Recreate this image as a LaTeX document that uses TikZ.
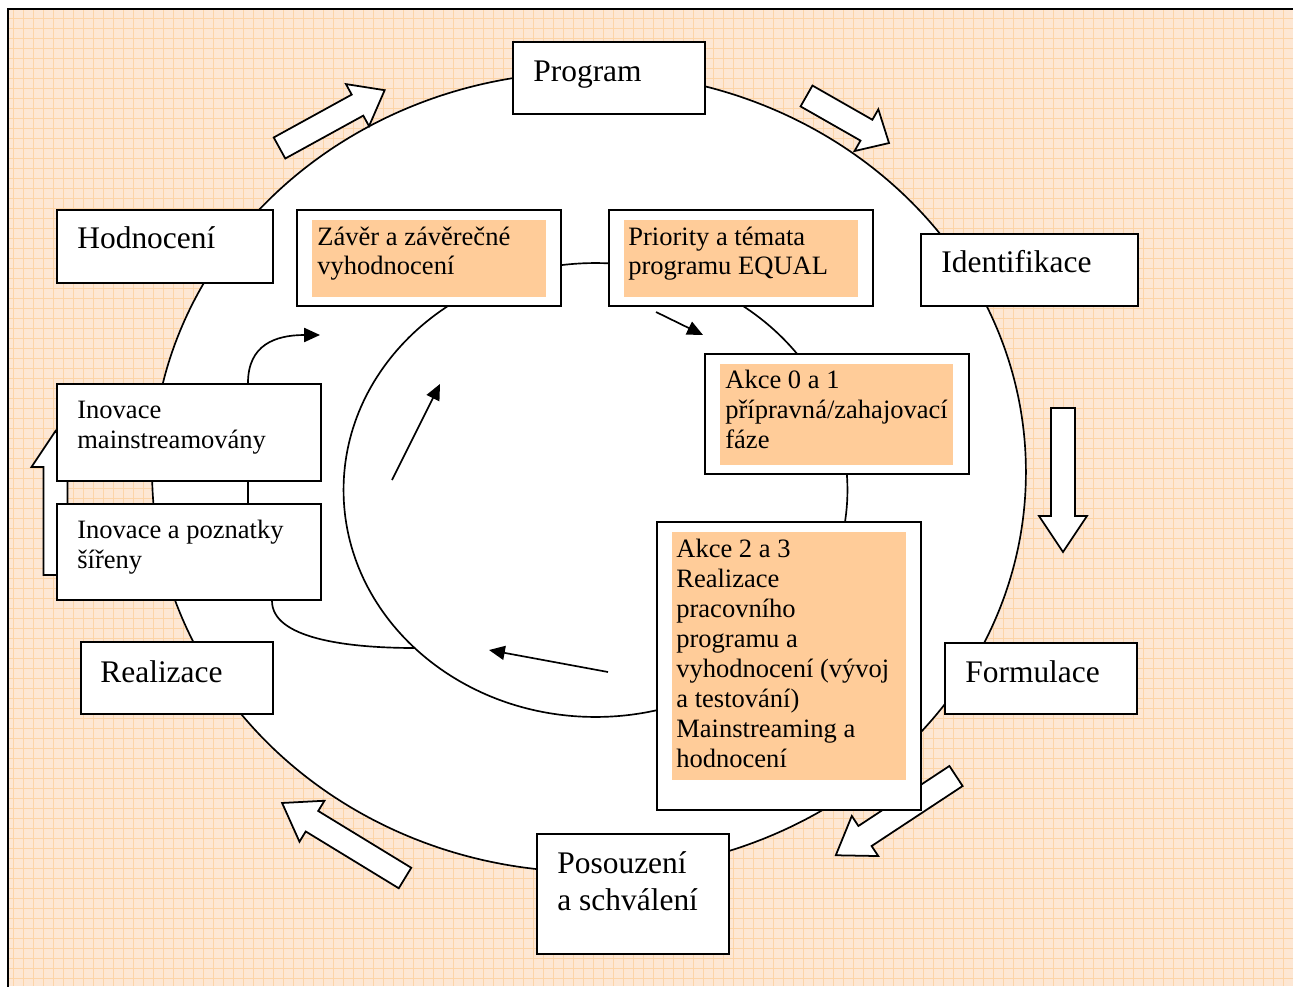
\documentclass[tikz,border=0pt]{standalone}
\usepackage{fontspec}
\setmainfont{Liberation Serif}
\usetikzlibrary{calc}
\usetikzlibrary{arrows.meta}
\definecolor{paper}{RGB}{253,231,212}
\definecolor{gridl}{RGB}{252,212,168}
\definecolor{tan}{RGB}{255,204,153}
\tikzset{
  box/.style={draw, fill=white, line width=1.1pt, inner sep=0, anchor=north west},
  big/.style={font=\fontsize{17.9}{21}\selectfont, anchor=base west, align=left, inner sep=0},
  small/.style={font=\fontsize{15.1}{17}\selectfont, anchor=base west, align=left, inner sep=0},
  conn/.style={line width=.95pt},
  hollow/.style={draw, fill=white, line width=1pt, line join=miter},
  tip/.style={-{Triangle[length=9pt,width=8pt]}},
}

\begin{document}
\begin{tikzpicture}[x=.02cm, y=-.02cm]
\useasboundingbox (0,0) rectangle (1293,986);
% paper and grid
\fill[paper] (8,9) rectangle (1293,986);
\foreach \i in {13,23,...,1293} {
  \draw[gridl, line width=.5pt] (\i,9)--(\i,986);
}
\foreach \j in {18,28,...,986} {
  \draw[gridl, line width=.5pt] (8,\j)--(1293,\j);
}
\draw[line width=1.1pt] (8,992)--(8,9)--(1298,9);

% outer cycle
\draw[conn, fill=white] (589,472) ellipse [x radius=8.74cm, y radius=8cm];

% big hollow arrows
\foreach \x/\y/\a/\l/\h in {279.5/148/28.8/120/31, 806.5/96/-29.7/95/26, 1063/408/-90/144/36,
    956/776/213.4/144/35, 405/878/148.6/144/35, 55.5/575/90/144/36} {
  \draw[hollow, shift={(\x,\y)}, rotate=\a] (0,-12)--(\l-\h,-12)--(\l-\h,-24)--(\l,0)
    --(\l-\h,24)--(\l-\h,12)--(0,12)--cycle;
}

% inner cycle
\draw[conn] (595.5,490) ellipse [x radius=5.04cm, y radius=4.54cm];

% boxes
\node[box, minimum width=3.84cm, minimum height=1.44cm] (prog) at (512,41) {};
\node[box, minimum width=4.32cm, minimum height=1.46cm] (hod) at (56,209) {};
\node[box, minimum width=5.28cm, minimum height=1.92cm] (zav) at (296,209) {};
\node[box, minimum width=5.28cm, minimum height=1.92cm] (pri) at (608,209) {};
\node[box, minimum width=4.34cm, minimum height=1.44cm] (ide) at (920,233) {};
\node[box, minimum width=5.28cm, minimum height=2.4cm] (akA) at (704,353) {};
\node[box, minimum width=5.28cm, minimum height=5.76cm] (akB) at (656,521) {};
\node[box, minimum width=3.84cm, minimum height=1.42cm] (form) at (944,642) {};
\node[box, minimum width=3.84cm, minimum height=2.4cm] (pos) at (536,833) {};
\node[box, minimum width=3.84cm, minimum height=1.44cm] (real) at (80,641) {};

% connectors
\coordinate (hp) at (320,335);
\coordinate (ell) at (415,648);
\coordinate (a1) at (656,312);
\coordinate (a2) at (703,335);
\coordinate (b1) at (392,480);
\coordinate (b2) at (440,384);
\coordinate (c1) at (608,672);
\coordinate (c2) at (489,650);
\draw[conn, tip] (a1)--(a2);
\draw[conn, tip] (b1)--(b2);
\draw[conn, tip] (c1)--(c2);

\node[box, minimum width=5.28cm, minimum height=1.94cm] (inov) at (56,383) {};
\node[box, minimum width=5.28cm, minimum height=1.92cm] (sir) at (56,503) {};
\draw[conn, tip] ($(inov.north west)+(192,0)$) .. controls (248,345) and (275,335) .. (hp);
\draw[conn] ($(inov.south west)+(192,0)$) -- ($(sir.north west)+(192,0)$);
\draw[conn] ($(sir.south west)+(216,0)$) .. controls (272,638) and (345,648) .. (ell);

% orange fields
\fill[tan] ($(zav.north west)+(16,11)$) rectangle ($(zav.south east)+(-16,-10)$);
\fill[tan] ($(pri.north west)+(16,11)$) rectangle ($(pri.south east)+(-16,-10)$);
\fill[tan] ($(akA.north west)+(16,11)$) rectangle ($(akA.south east)+(-17,-10)$);
\fill[tan] ($(akB.north west)+(16,11)$) rectangle ($(akB.south east)+(-16,-31)$);

% texts (base = last line)
\node[big] (tprog) at ($(prog.north west)+(21,41)$) {Program};
\node[big] (thod) at ($(hod.north west)+(21,40)$) {Hodnocení};
\node[big] (tide) at ($(ide.north west)+(21,40)$) {Identifikace};
\node[big] (tform) at ($(form.north west)+(21,40)$) {Formulace};
\node[big] (treal) at ($(real.north west)+(20,41)$) {Realizace};
\node[big] (tpos) at ($(pos.north west)+(21,77)$) {Posouzení\\a schválení};
\node[small] (tzav) at ($(zav.north west)+(21,66)$) {Závěr a závěrečné\\vyhodnocení};
\node[small] (tpri) at ($(pri.north west)+(20,66)$) {Priority a témata\\programu EQUAL};
\node[small] (takA) at ($(akA.north west)+(21,95)$) {Akce 0 a 1\\přípravná/zahajovací\\fáze};
\node[small] (takB) at ($(akB.north west)+(20,246)$) {Akce 2 a 3\\Realizace\\pracovního\\programu a\\vyhodnocení (vývoj\\a testování)\\Mainstreaming a\\hodnocení};
\node[small] (tinov) at ($(inov.north west)+(21,65)$) {Inovace\\mainstreamovány};
\node[small] (tsir) at ($(sir.north west)+(21,65)$) {Inovace a poznatky\\šířeny};
\end{tikzpicture}
\end{document}
